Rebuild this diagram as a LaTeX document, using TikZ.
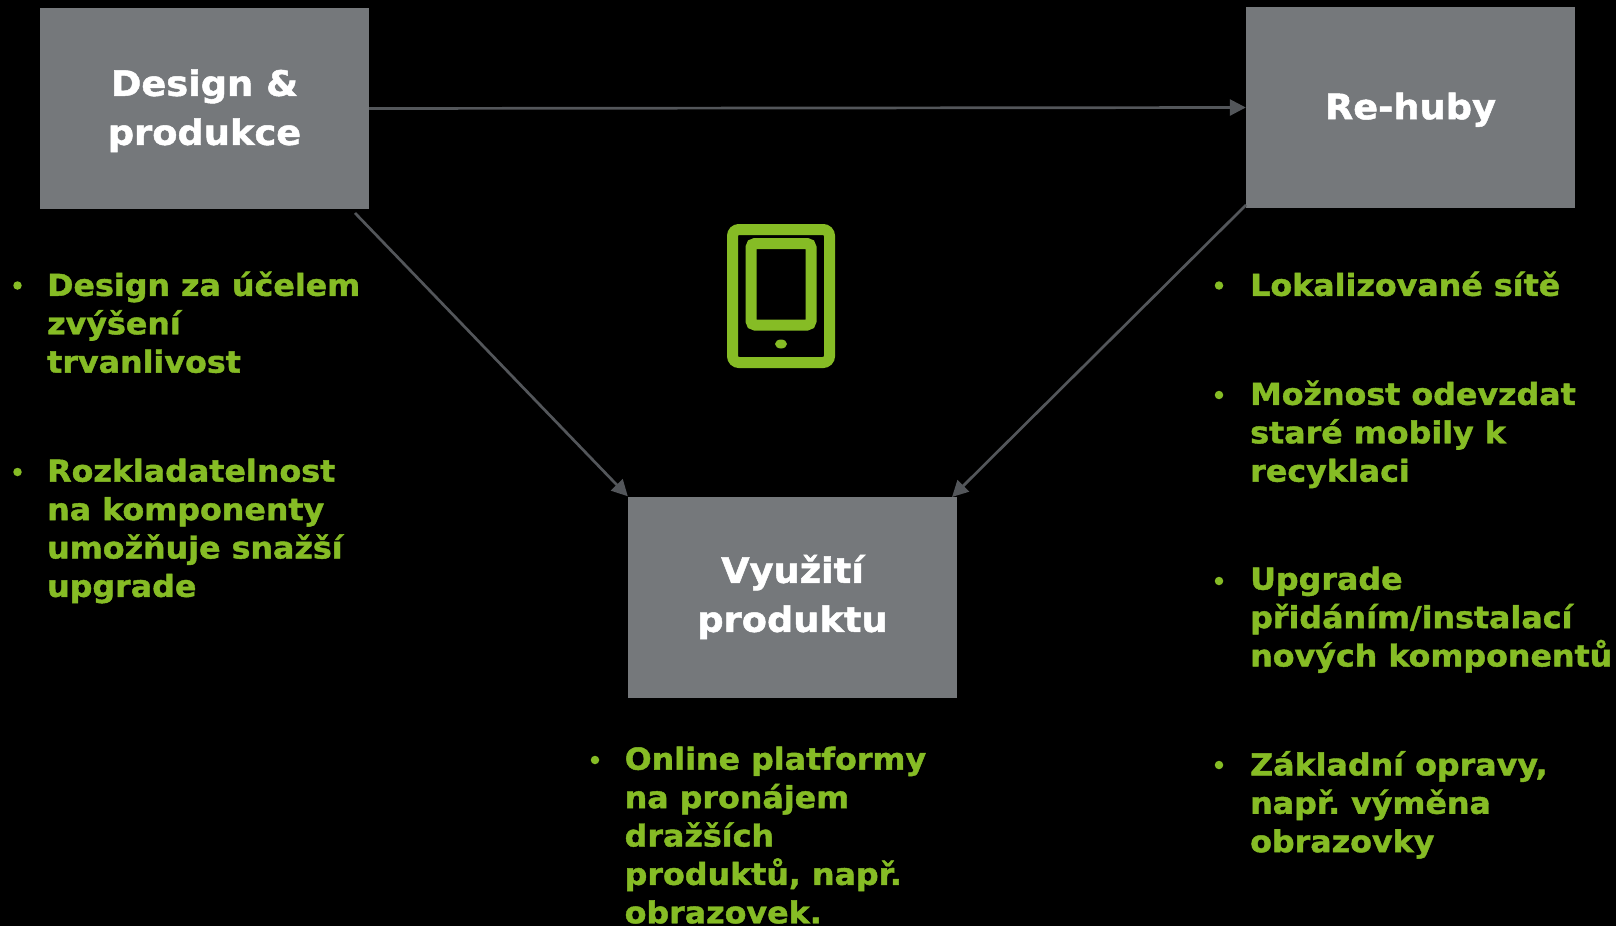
\documentclass[tikz,border=0pt]{standalone}
\usepackage{fontspec}
\setmainfont[BoldFeatures={FakeBold=1.4,FakeStretch=1.05}]{DejaVu Sans}
\usetikzlibrary{arrows.meta}
\definecolor{boxgray}{HTML}{75787B}
\definecolor{linegray}{HTML}{53565A}
\definecolor{leafgreen}{HTML}{86BC25}
\newcommand{\boxstrut}{\rule{0pt}{31pt}}
\frenchspacing
\tikzset{
	stagebox/.style={fill=boxgray,minimum width=329pt,minimum height=201pt,inner sep=0pt,align=center,text=white,font=\bfseries\fontsize{35}{49}\selectfont},
	flowline/.style={draw=linegray,line width=2.7pt,-{Triangle[length=16pt,width=16pt]}},
	itemtext/.style={anchor=north west,inner sep=0pt,align=left,text=leafgreen,font=\bfseries\fontsize{30.2}{38.4}\selectfont},
	itemdot/.style={fill=leafgreen,circle,inner sep=0pt,minimum size=8.5pt},
	iconline/.style={draw=leafgreen,line width=11pt},
}
\begin{document}
\begin{tikzpicture}[x=1pt,y=-1pt]
	\fill[black] (0,0) rectangle (1616,926);
	\useasboundingbox (0,0) rectangle (1616,926);
	\begin{scope}
		\clip (0,0) rectangle (1616,926);
		% boxes
		\node[stagebox] (design) at (204.5,108.5) {\boxstrut Design \&\\produkce};
		\node[stagebox] (rehuby) at (1410.5,107.5) {\boxstrut Re-huby};
		\node[stagebox] (vyuziti) at (792.5,597) {Využití\\produktu};
		% connectors
		\coordinate (designout) at (355,213);
		\coordinate (rehubyout) at (1246,205);
		\coordinate (vyuzitiin) at (952,497);
		\draw[flowline] (design.east) -- (rehuby.west);
		\draw[flowline] (designout) -- (vyuziti.north west);
		\draw[flowline] (rehubyout) -- (vyuzitiin);
		% phone
		\draw[iconline,rounded corners=6.5pt] (732.5,229.5) rectangle (829.5,362.5);
		\draw[iconline,rounded corners=4pt] (751,243.5) rectangle (811,325);
		\fill[leafgreen] (781,344) ellipse (6pt and 4.5pt);
		% left list
		\node[itemdot] (dota) at (17.5,285.5) {};
		\node[itemtext] (texta) at (47,271.5) {Design za účelem\\zvýšení\\trvanlivost};
		\node[itemdot] (dotb) at (17.5,472) {};
		\node[itemtext] (textb) at (47,458.5) {Rozkladatelnost\\na komponenty\\umožňuje snažší\\upgrade};
		% middle list
		\node[itemdot] (dotc) at (595,760) {};
		\node[itemtext] (textc) at (624.5,746.5) {Online platformy\\na pronájem\\dražších\\produktů, např.\\obrazovek.};
		% right list
		\node[itemdot] (dotd) at (1219,285.5) {};
		\node[itemtext] (textd) at (1250,271.5) {Lokalizované sítě};
		\node[itemdot] (dote) at (1219,395) {};
		\node[itemtext] (texte) at (1250,380.5) {Možnost odevzdat\\staré mobily k\\recyklaci};
		\node[itemdot] (dotf) at (1219,581) {};
		\node[itemtext] (textf) at (1250,566.5) {Upgrade\\přidáním/instalací\\nových komponentů};
		\node[itemdot] (dotg) at (1219,765) {};
		\node[itemtext] (textg) at (1250,751) {Základní opravy,\\např. výměna\\obrazovky};
	\end{scope}
\end{tikzpicture}
\end{document}
